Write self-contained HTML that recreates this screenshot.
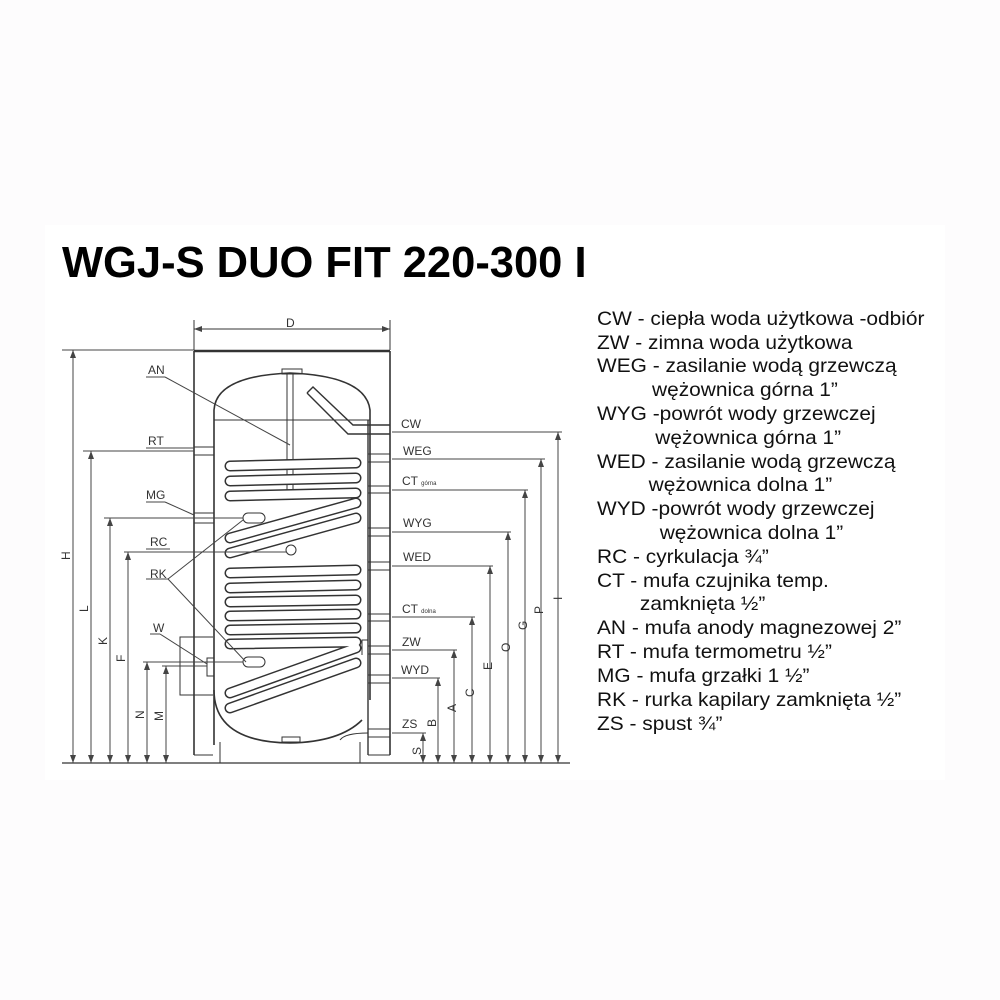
<!DOCTYPE html>
<html><head><meta charset="utf-8"><style>
html,body{margin:0;padding:0;background:#fdfcfd;}
svg{display:block}
</style></head><body>
<svg width="1000" height="1000" viewBox="0 0 1000 1000" xmlns="http://www.w3.org/2000/svg" font-family="Liberation Sans, Arial, sans-serif">
<rect x="0" y="0" width="1000" height="1000" fill="#fdfcfd"/>
<rect x="45" y="225" width="900" height="555" fill="#fff"/>
<text x="62" y="277" font-size="43.5" font-weight="bold" fill="#000">WGJ-S DUO FIT 220-300 I</text>

<g stroke="#333" fill="none" stroke-width="1">
<line x1="194" y1="320" x2="194" y2="350"/>
<line x1="390" y1="320" x2="390" y2="350"/>
<line x1="194" y1="329" x2="390" y2="329"/>
<line x1="194" y1="351" x2="390" y2="351" stroke-width="2.5"/>
<line x1="194" y1="351" x2="194" y2="755" stroke-width="1.6"/>
<line x1="390" y1="351" x2="390" y2="755" stroke-width="1.6"/>
<line x1="194" y1="755" x2="213" y2="755"/>
<line x1="368" y1="755" x2="390" y2="755"/>
<path d="M214,745 L214,410 Q216,376 290,373 Q366,376 370,410 L370,700" stroke-width="1.6"/>
<path d="M214,690 Q214,742 290,743 Q340,742 362,720" stroke-width="1.6"/>
<line x1="214" y1="420" x2="370" y2="420"/>
<line x1="220" y1="742" x2="220" y2="763"/>
<line x1="360" y1="742" x2="360" y2="763"/>
<line x1="62" y1="763" x2="570" y2="763" stroke-width="1.2"/>
<rect x="282" y="737" width="18" height="5"/>
<rect x="282" y="369" width="20" height="5"/>
<line x1="287" y1="374" x2="287" y2="500"/>
<line x1="293" y1="374" x2="293" y2="500"/>
<path d="M307,393 L313,387 L353,425 L390,425 M307,393 L348,434 L390,434" stroke-width="1.4"/>
<line x1="368" y1="420" x2="368" y2="755" stroke-width="1.4"/>
<rect x="194" y="447" width="20" height="8"/>
<rect x="194" y="513" width="20" height="10"/>
<rect x="368" y="454" width="22" height="8"/>
<rect x="368" y="486" width="22" height="7"/>
<rect x="368" y="528" width="22" height="8"/>
<rect x="368" y="562" width="22" height="8"/>
<rect x="368" y="614" width="22" height="7"/>
<rect x="368" y="646" width="22" height="8"/>
<rect x="368" y="675" width="22" height="8"/>
<rect x="368" y="729" width="22" height="8"/>
<path d="M340,740 Q345,733 368,733"/>
<path d="M213,637 L180,637 L180,695 L213,695"/>
<rect x="207" y="658" width="7" height="18"/>
<path d="M362,655 L362,640 L368,640"/>
<rect x="243" y="513" width="22" height="10" rx="5"/>
<rect x="243" y="657" width="22" height="10" rx="5"/>
<circle cx="291" cy="550" r="5"/>
</g>

<g stroke="#333" stroke-width="11" stroke-linecap="round" fill="none">
<path d="M230,466 L356,463 M230,481 L356,478 M230,496 L356,493 M230,538 L356,503 M230,553 L356,518 M230,573 L356,570 M230,588 L356,585 M230,602 L356,600 M230,616 L356,614 M230,630 L356,628 M230,644 L356,642 M230,693 L356,648 M230,708 L356,663"/>
</g>
<g stroke="#fff" stroke-width="8" stroke-linecap="round" fill="none">
<path d="M230,466 L356,463 M230,481 L356,478 M230,496 L356,493 M230,538 L356,503 M230,553 L356,518 M230,573 L356,570 M230,588 L356,585 M230,602 L356,600 M230,616 L356,614 M230,630 L356,628 M230,644 L356,642 M230,693 L356,648 M230,708 L356,663"/>
</g>

<g stroke="#444" stroke-width="1" fill="none">
<line x1="62" y1="350" x2="194" y2="350"/>
<line x1="73" y1="350" x2="73" y2="763"/>
<line x1="83" y1="451" x2="194" y2="451"/>
<line x1="91" y1="451" x2="91" y2="763"/>
<line x1="104" y1="518" x2="243" y2="518"/>
<line x1="110" y1="518" x2="110" y2="763"/>
<line x1="124" y1="552" x2="286" y2="552"/>
<line x1="128" y1="552" x2="128" y2="763"/>
<line x1="143" y1="662" x2="243" y2="662"/>
<line x1="147" y1="662" x2="147" y2="763"/>
<line x1="162" y1="666" x2="207" y2="666"/>
<line x1="166" y1="666" x2="166" y2="763"/>
<line x1="146" y1="377" x2="165" y2="377"/>
<line x1="165" y1="377" x2="290" y2="445"/>
<line x1="146" y1="448" x2="194" y2="448"/>
<line x1="146" y1="502" x2="165" y2="502"/>
<line x1="165" y1="502" x2="194" y2="515"/>
<line x1="146" y1="549" x2="170" y2="549"/>
<line x1="146" y1="579" x2="168" y2="579"/>
<line x1="168" y1="579" x2="243" y2="520"/>
<line x1="168" y1="579" x2="246" y2="662"/>
<line x1="150" y1="634" x2="160" y2="634"/>
<line x1="160" y1="634" x2="207" y2="664"/>
</g>
<g fill="#444">
<path d="M73,350 l-3,8 h6z M73,763 l-3,-8 h6z M91,451 l-3,8 h6z M91,763 l-3,-8 h6z M110,518 l-3,8 h6z M110,763 l-3,-8 h6z M128,552 l-3,8 h6z M128,763 l-3,-8 h6z M147,662 l-3,8 h6z M147,763 l-3,-8 h6z M166,666 l-3,8 h6z M166,763 l-3,-8 h6z"/>
<path d="M194,329 l8,-3 v6z M390,329 l-8,-3 v6z"/>
</g>

<g stroke="#444" stroke-width="1" fill="none">
<line x1="392" y1="432" x2="562" y2="432"/><line x1="558" y1="432" x2="558" y2="763"/>
<line x1="392" y1="459" x2="545" y2="459"/><line x1="541" y1="459" x2="541" y2="763"/>
<line x1="392" y1="490" x2="528" y2="490"/><line x1="525" y1="490" x2="525" y2="763"/>
<line x1="392" y1="532" x2="511" y2="532"/><line x1="508" y1="532" x2="508" y2="763"/>
<line x1="392" y1="566" x2="493" y2="566"/><line x1="490" y1="566" x2="490" y2="763"/>
<line x1="392" y1="617" x2="475" y2="617"/><line x1="472" y1="617" x2="472" y2="763"/>
<line x1="392" y1="650" x2="457" y2="650"/><line x1="454" y1="650" x2="454" y2="763"/>
<line x1="392" y1="678" x2="440" y2="678"/><line x1="438" y1="678" x2="438" y2="763"/>
<line x1="392" y1="733" x2="426" y2="733"/><line x1="423" y1="733" x2="423" y2="763"/>
</g>
<g fill="#444">
<path d="M558,432 l-3,8 h6z M558,763 l-3,-8 h6z M541,459 l-3,8 h6z M541,763 l-3,-8 h6z M525,490 l-3,8 h6z M525,763 l-3,-8 h6z M508,532 l-3,8 h6z M508,763 l-3,-8 h6z M490,566 l-3,8 h6z M490,763 l-3,-8 h6z M472,617 l-3,8 h6z M472,763 l-3,-8 h6z M454,650 l-3,8 h6z M454,763 l-3,-8 h6z M438,678 l-3,8 h6z M438,763 l-3,-8 h6z M423,733 l-3,8 h6z M423,763 l-3,-8 h6z"/>
</g>

<g font-size="12" fill="#333">
<text x="286" y="327">D</text>
<text x="148" y="374">AN</text>
<text x="148" y="445">RT</text>
<text x="146" y="499">MG</text>
<text x="150" y="546">RC</text>
<text x="150" y="578">RK</text>
<text x="153" y="632">W</text>
<text x="401" y="428">CW</text>
<text x="403" y="455">WEG</text>
<text x="402" y="485">CT <tspan font-size="6">górna</tspan></text>
<text x="403" y="527">WYG</text>
<text x="403" y="561">WED</text>
<text x="402" y="613">CT <tspan font-size="6">dolna</tspan></text>
<text x="402" y="646">ZW</text>
<text x="401" y="674">WYD</text>
<text x="402" y="728">ZS</text>
</g>
<g font-size="12" fill="#333">
<text transform="translate(70,560) rotate(-90)">H</text>
<text transform="translate(88,612) rotate(-90)">L</text>
<text transform="translate(107,645) rotate(-90)">K</text>
<text transform="translate(125,662) rotate(-90)">F</text>
<text transform="translate(144,719) rotate(-90)">N</text>
<text transform="translate(163,721) rotate(-90)">M</text>
<text transform="translate(562,600) rotate(-90)">I</text>
<text transform="translate(543,614) rotate(-90)">P</text>
<text transform="translate(527,630) rotate(-90)">G</text>
<text transform="translate(510,652) rotate(-90)">O</text>
<text transform="translate(492,670) rotate(-90)">E</text>
<text transform="translate(474,697) rotate(-90)">C</text>
<text transform="translate(456,712) rotate(-90)">A</text>
<text transform="translate(436,727) rotate(-90)">B</text>
<text transform="translate(421,755) rotate(-90)">S</text>
</g>

<g font-size="19" fill="#111" transform="translate(597,0) scale(1.1,1)">
<text x="0" y="325">CW - ciepła woda użytkowa -odbiór</text>
<text x="0" y="349">ZW - zimna woda użytkowa</text>
<text x="0" y="372">WEG - zasilanie wodą grzewczą</text>
<text x="50" y="396">wężownica górna 1”</text>
<text x="0" y="420">WYG -powrót wody grzewczej</text>
<text x="53" y="444">wężownica górna 1”</text>
<text x="0" y="468">WED - zasilanie wodą grzewczą</text>
<text x="47" y="491">wężownica dolna 1”</text>
<text x="0" y="515">WYD -powrót wody grzewczej</text>
<text x="57" y="539">wężownica dolna 1”</text>
<text x="0" y="563">RC - cyrkulacja  ¾”</text>
<text x="0" y="587">CT - mufa czujnika temp.</text>
<text x="39" y="610">zamknięta  ½”</text>
<text x="0" y="634">AN - mufa anody magnezowej  2”</text>
<text x="0" y="658">RT - mufa termometru  ½”</text>
<text x="0" y="682">MG - mufa grzałki 1 ½”</text>
<text x="0" y="706">RK - rurka kapilary zamknięta ½”</text>
<text x="0" y="730">ZS - spust  ¾”</text>
</g>
</svg>
</body></html>
